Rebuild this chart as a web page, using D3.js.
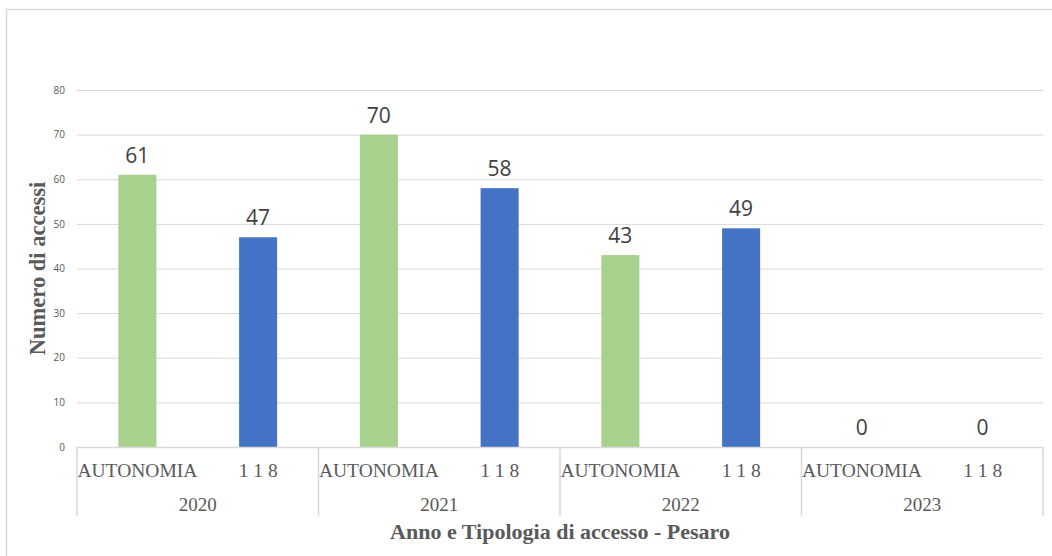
<!DOCTYPE html>
<html>
<head>
<meta charset="utf-8">
<script src="https://cdn.jsdelivr.net/npm/d3@7"></script>
<style>
  html, body { margin: 0; padding: 0; background: #fff; }
  svg { display: block; }
</style>
</head>
<body>
<svg id="chart" width="1052" height="556"></svg>
<script>
// Accessi per anno e tipologia (Pesaro)
const years = ["2020", "2021", "2022", "2023"];
const types = ["AUTONOMIA", "1 1 8"];
const autonomia = [61, 70, 43, 0];
const centoDiciotto = [47, 58, 49, 0];
const yTicks = [0, 10, 20, 30, 40, 50, 60, 70, 80];

const typeColors = { "AUTONOMIA": "#a9d18e", "1 1 8": "#4472c4" };

// Flatten into one row per bar
const rows = [];
years.forEach((y, i) => {
  rows.push({ year: y, type: types[0], value: autonomia[i] });
  rows.push({ year: y, type: types[1], value: centoDiciotto[i] });
});

const svg = d3.select("#chart");
const W = 1052, H = 556;
const margin = { left: 77, right: 9, top: 90, bottom: 109 };
const plotW = W - margin.left - margin.right;
const plotH = H - margin.top - margin.bottom;

// outer chart frame (top and left edges)
svg.append("line").attr("x1", 6).attr("x2", W).attr("y1", 9.5).attr("y2", 9.5)
  .attr("stroke", "#d9d9d9").attr("stroke-width", 1.5);
svg.append("line").attr("x1", 6.5).attr("x2", 6.5).attr("y1", 9).attr("y2", H)
  .attr("stroke", "#d9d9d9").attr("stroke-width", 1.5);

const g = svg.append("g").attr("transform", `translate(${margin.left},${margin.top})`);

const keys = rows.map(d => d.year + "|" + d.type);
const x = d3.scaleBand().domain(keys).range([0, plotW]).paddingInner(0).paddingOuter(0);
const y = d3.scaleLinear().domain([0, 80]).range([plotH, 0]);
const bw = x.bandwidth() * 0.315;

// horizontal gridlines + tick labels
const yAxis = d3.axisLeft(y).tickValues(yTicks).tickSize(-plotW).tickPadding(12);
const ya = g.append("g").call(yAxis);
ya.select(".domain").remove();
ya.selectAll(".tick line").attr("stroke", "#d9d9d9").attr("stroke-width", 1);
ya.selectAll(".tick text")
  .attr("fill", "#595959")
  .style("font-family", "'Open Sans', 'Liberation Sans', sans-serif")
  .style("font-size", "10px");

// bars
g.selectAll("rect.bar").data(rows).join("rect")
  .attr("class", "bar")
  .attr("x", d => x(d.year + "|" + d.type) + (x.bandwidth() - bw) / 2)
  .attr("width", bw)
  .attr("y", d => y(d.value))
  .attr("height", d => plotH - y(d.value))
  .attr("fill", d => typeColors[d.type]);

// value labels
g.selectAll("text.val").data(rows).join("text")
  .attr("class", "val")
  .attr("x", d => x(d.year + "|" + d.type) + x.bandwidth() / 2)
  .attr("y", d => y(d.value) - 12)
  .attr("text-anchor", "middle")
  .attr("fill", "#404040")
  .style("font-family", "'Open Sans', 'Liberation Sans', sans-serif")
  .style("font-size", "21px")
  .text(d => d.value);

// category axis baseline
g.append("line").attr("x1", 0).attr("x2", plotW).attr("y1", plotH + 0.5).attr("y2", plotH + 0.5)
  .attr("stroke", "#d9d9d9").attr("stroke-width", 1.5);

// group separators
const groupW = plotW / years.length;
d3.range(years.length + 1).forEach(i => {
  g.append("line")
    .attr("x1", i * groupW).attr("x2", i * groupW)
    .attr("y1", plotH).attr("y2", plotH + 69)
    .attr("stroke", "#d9d9d9").attr("stroke-width", 1.5);
});

// inner category labels
g.selectAll("text.cat").data(rows).join("text")
  .attr("class", "cat")
  .attr("x", d => x(d.year + "|" + d.type) + x.bandwidth() / 2)
  .attr("y", plotH + 30)
  .attr("text-anchor", "middle")
  .attr("fill", "#595959")
  .style("font-family", "'Liberation Serif', 'DejaVu Serif', serif")
  .style("font-size", "19.5px")
  .text(d => d.type);

// year labels
g.selectAll("text.year").data(years).join("text")
  .attr("class", "year")
  .attr("x", (d, i) => i * groupW + groupW / 2)
  .attr("y", plotH + 64)
  .attr("text-anchor", "middle")
  .attr("fill", "#595959")
  .style("font-family", "'Liberation Serif', 'DejaVu Serif', serif")
  .style("font-size", "19px")
  .text(d => d);

// axis titles
svg.append("text")
  .attr("x", margin.left + plotW / 2)
  .attr("y", 539)
  .attr("text-anchor", "middle")
  .attr("fill", "#595959")
  .style("font-family", "'Liberation Serif', 'DejaVu Serif', serif")
  .style("font-size", "22px")
  .style("font-weight", "bold")
  .text("Anno e Tipologia di accesso - Pesaro");

svg.append("text")
  .attr("transform", `translate(45,${margin.top + plotH / 2}) rotate(-90)`)
  .attr("text-anchor", "middle")
  .attr("fill", "#595959")
  .style("font-family", "'Liberation Serif', 'DejaVu Serif', serif")
  .style("font-size", "22.5px")
  .style("font-weight", "bold")
  .text("Numero di accessi");
</script>
</body>
</html>
